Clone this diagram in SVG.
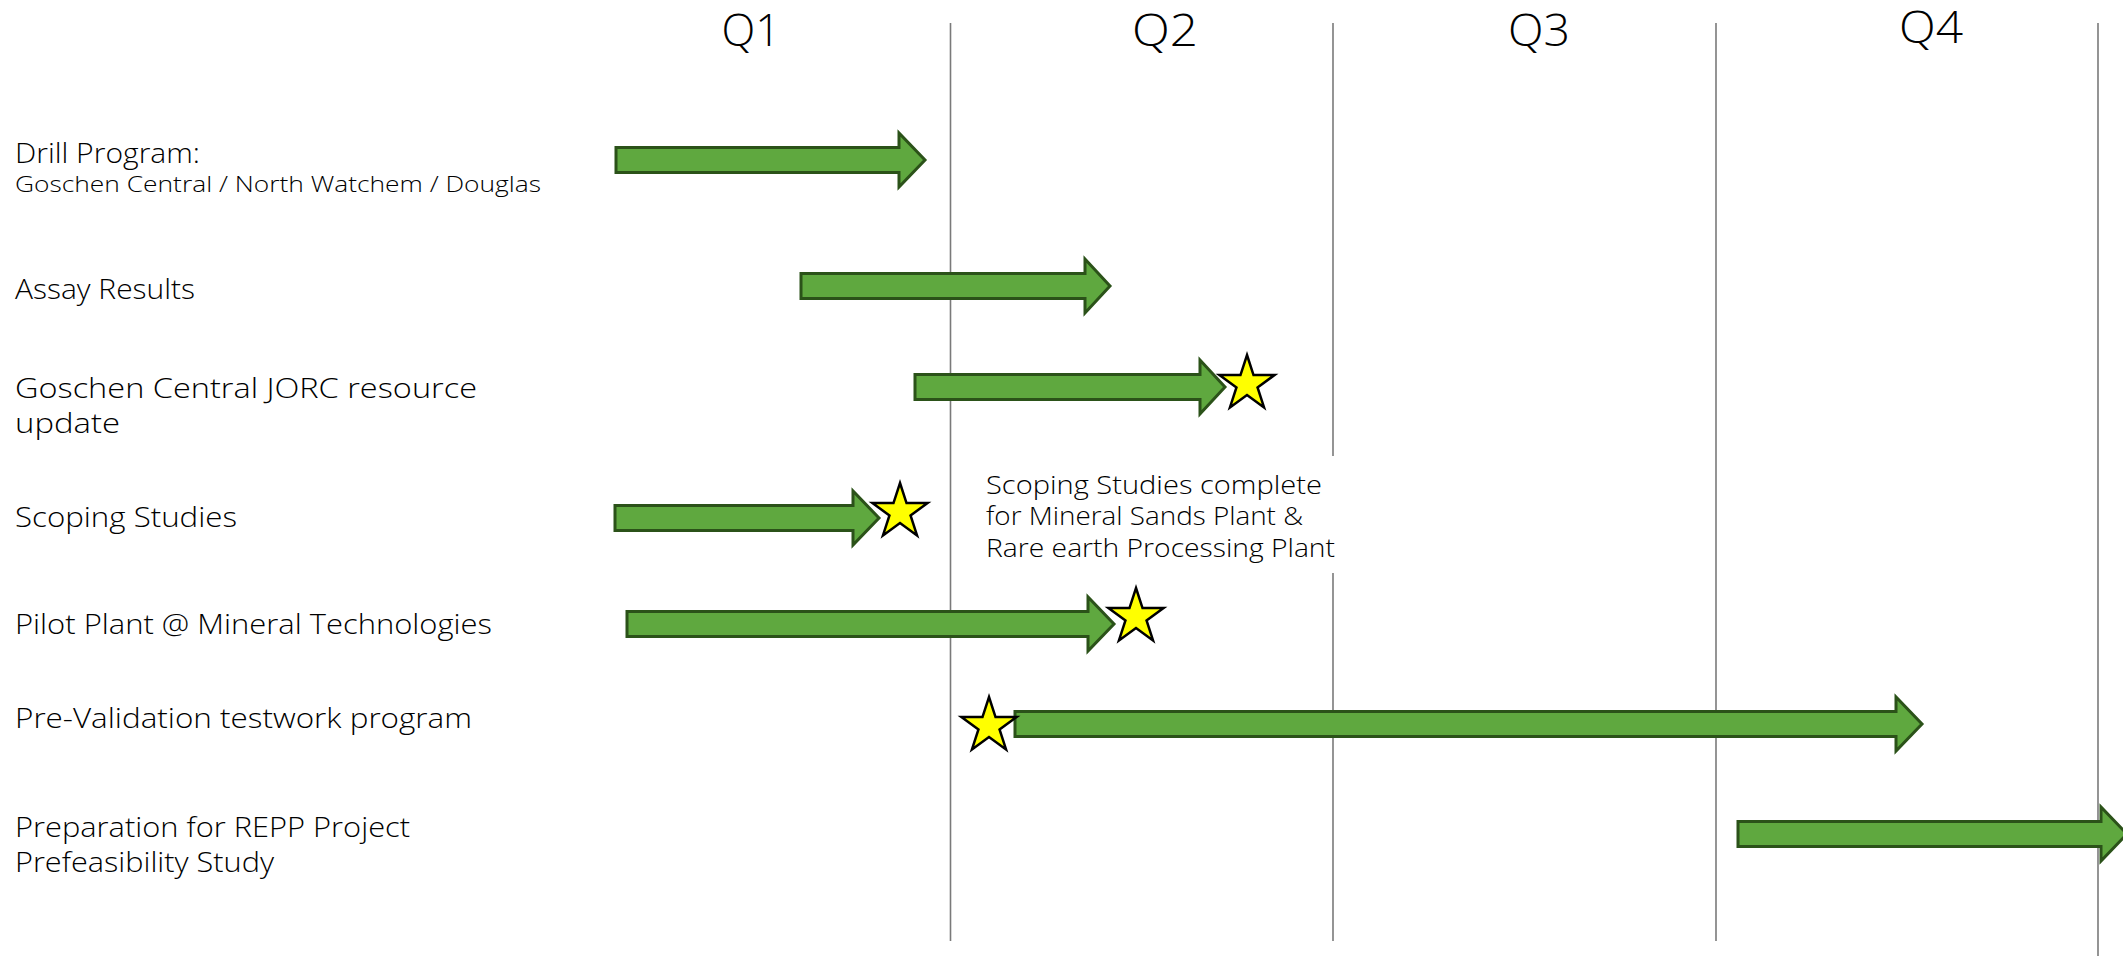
<svg xmlns="http://www.w3.org/2000/svg" width="2123" height="956" viewBox="0 0 2123 956">
<style>
.lbl{font-family:"Open Sans","Liberation Sans",sans-serif;font-weight:300;font-size:28px;fill:#000}
.sub{font-family:"Open Sans","Liberation Sans",sans-serif;font-weight:300;font-size:22px;fill:#000}
.ann{font-family:"Open Sans","Liberation Sans",sans-serif;font-weight:300;font-size:25px;fill:#000}
.q{font-family:"Open Sans","Liberation Sans",sans-serif;font-weight:300;font-size:44px;fill:#000;text-anchor:middle}
.bar{fill:#5fa83f;stroke:#2b5219;stroke-width:3;stroke-linejoin:miter}
.star{fill:#ffff00;stroke:#000;stroke-width:2.5;stroke-linejoin:miter}
.grid{stroke:#7a7a7a;stroke-width:1.6;fill:none}
</style>
<defs>
<path id="st" d="M0,-29 L6.52,-8.97 L27.58,-8.96 L10.54,3.43 L17.05,23.46 L0,11.08 L-17.05,23.46 L-10.54,3.43 L-27.58,-8.96 L-6.52,-8.97 Z"/>
</defs>
<rect width="2123" height="956" fill="#fff"/>
<g id="gridlines">
<line class="grid" x1="950.5" y1="23" x2="950.5" y2="941"/>
<line class="grid" x1="1333" y1="23" x2="1333" y2="456"/>
<line class="grid" x1="1333" y1="573" x2="1333" y2="941"/>
<line class="grid" x1="1716" y1="23" x2="1716" y2="941"/>
<line class="grid" x1="2098" y1="23" x2="2098" y2="956"/>
</g>
<g id="quarters">
<text class="q" x="751" y="46" textLength="59" lengthAdjust="spacingAndGlyphs">Q1</text>
<text class="q" x="1165" y="46" textLength="66" lengthAdjust="spacingAndGlyphs">Q2</text>
<text class="q" x="1539" y="46" textLength="62" lengthAdjust="spacingAndGlyphs">Q3</text>
<text class="q" x="1931" y="43" textLength="64" lengthAdjust="spacingAndGlyphs">Q4</text>
</g>
<g id="row-drill">
<text class="lbl" x="15" y="163" textLength="185" lengthAdjust="spacingAndGlyphs">Drill Program:</text>
<text class="sub" x="15" y="192" textLength="526" lengthAdjust="spacingAndGlyphs">Goschen Central / North Watchem / Douglas</text>
<polygon class="bar" points="616,147.5 899,147.5 899,133 925,160 899,187 899,172.5 616,172.5"/>
</g>
<g id="row-assay">
<text class="lbl" x="15" y="299" textLength="180" lengthAdjust="spacingAndGlyphs">Assay Results</text>
<polygon class="bar" points="801,273.5 1085,273.5 1085,259 1110,286 1085,313 1085,298.5 801,298.5"/>
</g>
<g id="row-jorc">
<text class="lbl" x="15" y="398" textLength="462" lengthAdjust="spacingAndGlyphs">Goschen Central JORC resource</text>
<text class="lbl" x="15" y="433" textLength="105" lengthAdjust="spacingAndGlyphs">update</text>
<polygon class="bar" points="915,374.5 1200,374.5 1200,360 1225,387 1200,414 1200,399.5 915,399.5"/>
<use href="#st" class="star" x="1247" y="384"/>
</g>
<g id="row-scoping">
<text class="lbl" x="15" y="527" textLength="222" lengthAdjust="spacingAndGlyphs">Scoping Studies</text>
<polygon class="bar" points="615,505.5 853,505.5 853,491 879,518 853,545 853,530.5 615,530.5"/>
<use href="#st" class="star" x="900" y="512"/>
</g>
<g id="note-scoping">
<text class="ann" x="986" y="494" textLength="336" lengthAdjust="spacingAndGlyphs">Scoping Studies complete</text>
<text class="ann" x="986" y="525" textLength="317" lengthAdjust="spacingAndGlyphs">for Mineral Sands Plant &amp;</text>
<text class="ann" x="986" y="557" textLength="349" lengthAdjust="spacingAndGlyphs">Rare earth Processing Plant</text>
</g>
<g id="row-pilot">
<text class="lbl" x="15" y="634" textLength="477" lengthAdjust="spacingAndGlyphs">Pilot Plant @ Mineral Technologies</text>
<polygon class="bar" points="627,611.5 1088,611.5 1088,597 1114,624 1088,651 1088,636.5 627,636.5"/>
<use href="#st" class="star" x="1136" y="617"/>
</g>
<g id="row-prevalidation">
<text class="lbl" x="15" y="728" textLength="457" lengthAdjust="spacingAndGlyphs">Pre-Validation testwork program</text>
<polygon class="bar" points="1015,711.5 1896,711.5 1896,697 1922,724 1896,751 1896,736.5 1015,736.5"/>
<use href="#st" class="star" x="989" y="726"/>
</g>
<g id="row-repp">
<text class="lbl" x="15" y="837" textLength="395" lengthAdjust="spacingAndGlyphs">Preparation for REPP Project</text>
<text class="lbl" x="15" y="872" textLength="259" lengthAdjust="spacingAndGlyphs">Prefeasibility Study</text>
<polygon class="bar" points="1738,821.5 2101,821.5 2101,807 2127,834 2101,861 2101,846.5 1738,846.5"/>
</g>
</svg>
